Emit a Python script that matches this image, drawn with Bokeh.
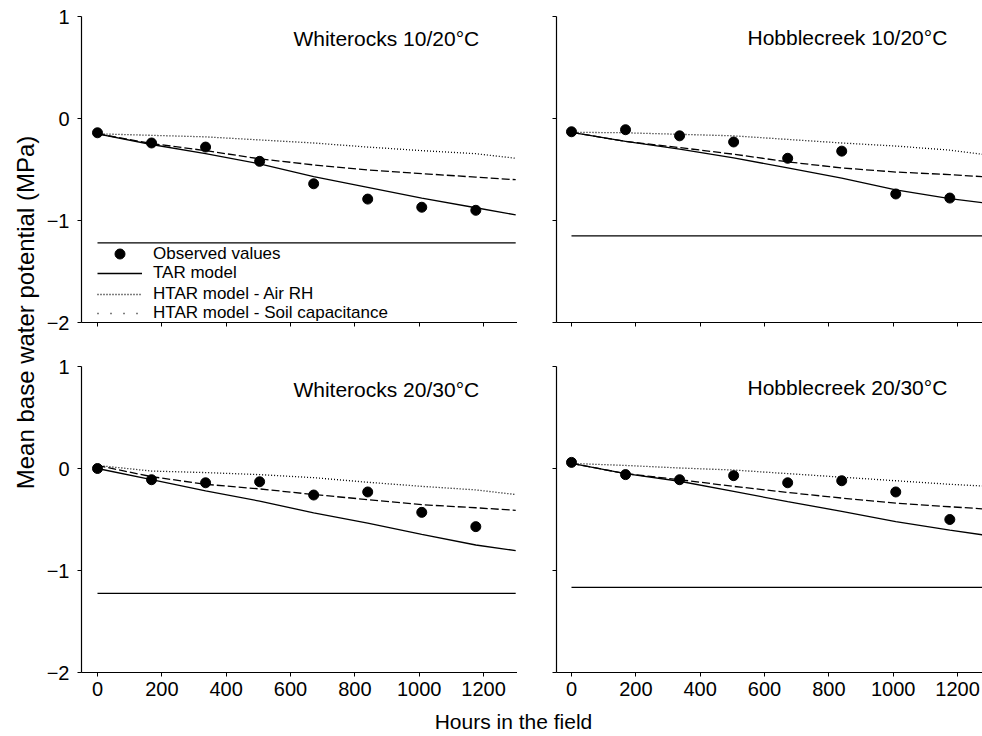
import math
from bokeh.plotting import figure
from bokeh.models import (Range1d, FixedTicker, Label, Legend, LegendItem,
                          CustomJSTickFormatter)
from bokeh.layouts import row, column
from bokeh.embed import file_html
from bokeh.resources import INLINE

FONT = "Liberation Sans"

# ---------------- data ----------------
obs_hours = [0, 168, 336, 504, 672, 840, 1008, 1176]
model_hours = [0, 168, 336, 504, 672, 840, 1008, 1176, 1300]

x_ticks = [0, 200, 400, 600, 800, 1000, 1200]
y_ticks = [-2, -1, 0, 1]
y_tick_labels = {-2: "\u22122", -1: "\u22121", 0: "0", 1: "1"}

titles = ["Whiterocks 10/20\u00b0C", "Hobblecreek 10/20\u00b0C",
          "Whiterocks 20/30\u00b0C", "Hobblecreek 20/30\u00b0C"]

legend_labels = ["Observed values", "TAR model", "HTAR model - Air RH",
                 "HTAR model - Soil capacitance"]

# Whiterocks 10/20
wr1020_obs = [-0.14, -0.24, -0.28, -0.42, -0.64, -0.79, -0.87, -0.90]
wr1020_tar = [-0.15, -0.255, -0.345, -0.445, -0.57, -0.675, -0.78, -0.875, -0.945]
wr1020_air = [-0.15, -0.165, -0.18, -0.21, -0.24, -0.28, -0.315, -0.345, -0.39]
wr1020_soil = [-0.15, -0.245, -0.315, -0.395, -0.455, -0.505, -0.54, -0.575, -0.60]
wr1020_base = -1.22

# Hobblecreek 10/20
hc1020_obs = [-0.13, -0.11, -0.17, -0.23, -0.39, -0.32, -0.74, -0.78]
hc1020_tar = [-0.135, -0.225, -0.30, -0.385, -0.485, -0.585, -0.70, -0.785, -0.835]
hc1020_air = [-0.135, -0.14, -0.155, -0.17, -0.205, -0.24, -0.27, -0.31, -0.36]
hc1020_soil = [-0.135, -0.225, -0.285, -0.35, -0.425, -0.485, -0.525, -0.55, -0.575]
hc1020_base = -1.15

# Whiterocks 20/30
wr2030_obs = [0.0, -0.11, -0.14, -0.13, -0.26, -0.23, -0.43, -0.57]
wr2030_tar = [0.0, -0.11, -0.22, -0.32, -0.435, -0.535, -0.645, -0.75, -0.805]
wr2030_air = [0.03, -0.025, -0.04, -0.06, -0.09, -0.135, -0.175, -0.21, -0.255]
wr2030_soil = [0.03, -0.08, -0.155, -0.20, -0.255, -0.305, -0.355, -0.385, -0.41]
wr2030_base = -1.225

# Hobblecreek 20/30
hc2030_obs = [0.06, -0.06, -0.11, -0.07, -0.14, -0.12, -0.23, -0.50]
hc2030_tar = [0.05, -0.05, -0.125, -0.225, -0.325, -0.42, -0.52, -0.605, -0.66]
hc2030_air = [0.05, 0.03, 0.005, -0.015, -0.05, -0.085, -0.12, -0.155, -0.175]
hc2030_soil = [0.05, -0.05, -0.11, -0.175, -0.235, -0.29, -0.34, -0.375, -0.40]
hc2030_base = -1.165

EMPTY = CustomJSTickFormatter(code="return ''")


def make_panel(obs, tar, air, soil, base, title, title_x, title_y,
               width, height, b_left, b_top, b_bottom, x_start, x_end,
               xlabels, ylabels):
    p = figure(width=width, height=height, output_backend="svg",
               toolbar_location=None,
               x_range=Range1d(x_start, x_end), y_range=Range1d(-2, 1),
               min_border_left=b_left, min_border_right=0,
               min_border_top=b_top, min_border_bottom=b_bottom)
    p.outline_line_color = None
    p.xgrid.visible = False
    p.ygrid.visible = False

    p.xaxis.ticker = FixedTicker(ticks=x_ticks)
    p.yaxis.ticker = FixedTicker(ticks=y_ticks)
    for ax in [p.xaxis[0], p.yaxis[0]]:
        ax.axis_line_color = "black"
        ax.axis_line_width = 1.2
        ax.major_tick_line_color = "black"
        ax.major_tick_line_width = 1
        ax.major_tick_out = 4
        ax.major_tick_in = 0
        ax.minor_tick_out = 0
        ax.minor_tick_in = 0
        ax.major_label_text_font = FONT
        ax.major_label_text_font_size = "20px"
        ax.major_label_text_color = "black"
    p.xaxis.major_label_standoff = 5
    p.yaxis.major_label_standoff = 8
    if ylabels:
        p.yaxis.major_label_overrides = y_tick_labels
    else:
        p.yaxis.formatter = EMPTY
    if not xlabels:
        p.xaxis.formatter = EMPTY

    p.line([model_hours[0], model_hours[-1]], [base, base],
           line_color="black", line_width=1.2)
    r_tar = p.line(model_hours, tar, line_color="black", line_width=1.3)
    r_air = p.line(model_hours, air, line_color="black", line_width=1.3,
                   line_dash="1 2")
    r_soil = p.line(model_hours, soil, line_color="black", line_width=1.3,
                    line_dash="8 3")
    r_obs = p.scatter(obs_hours, obs, size=10, color="black")

    p.add_layout(Label(x=title_x, y=title_y, text=title, text_font=FONT,
                       text_font_size="21px", text_color="black",
                       text_baseline="alphabetic", text_align="left"))
    return p, r_obs, r_tar, r_air, r_soil


YW = 41
LW, RW = 476, 465
TH, BH = 344, 361
XH = 31

tl, o1, t1, a1, s1 = make_panel(wr1020_obs, wr1020_tar, wr1020_air, wr1020_soil,
                                wr1020_base, titles[0], 609, 0.78,
                                LW, TH, 40, 16, 22, -49.7, 1305.6, False, True)
tr, *_ = make_panel(hc1020_obs, hc1020_tar, hc1020_air, hc1020_soil,
                    hc1020_base, titles[1], 547, 0.79,
                    RW, TH, 39, 16, 22, -46.6, 1277.6, False, False)
bl, *_ = make_panel(wr2030_obs, wr2030_tar, wr2030_air, wr2030_soil,
                    wr2030_base, titles[2], 609, 0.77,
                    LW, BH, 40, 22, 33, -49.7, 1305.6, True, True)
br, *_ = make_panel(hc2030_obs, hc2030_tar, hc2030_air, hc2030_soil,
                    hc2030_base, titles[3], 547, 0.795,
                    RW, BH, 39, 22, 33, -46.6, 1277.6, True, False)

# legend (top-left panel): one single-item legend per row
soil_proxy = tl.line([math.nan], [math.nan], line_color="black", line_width=1.5,
                     line_dash="1 12")
common = dict(padding=0, margin=0, border_line_color=None,
              background_fill_alpha=0, glyph_width=45, label_standoff=11,
              label_text_font=FONT, label_text_font_size="17px",
              label_text_color="black", spacing=0)
legend_rows = [(legend_labels[0], o1, 56, 25),
               (legend_labels[1], t1, 39, 12),
               (legend_labels[2], a1, 18, 12),
               (legend_labels[3], soil_proxy, -1, 12)]
for lab, rend, vy, gh in legend_rows:
    tl.add_layout(Legend(items=[LegendItem(label=lab, renderers=[rend])],
                         location=(16, vy), glyph_height=gh, label_height=gh,
                         **common))

# shared axis titles
ylab = figure(width=YW, height=TH + BH, output_backend="svg",
              toolbar_location=None, x_range=Range1d(0, 1), y_range=Range1d(0, 1),
              x_axis_type=None, y_axis_type=None, min_border=0)
ylab.outline_line_color = None
ylab.grid.visible = False
ylab.add_layout(Label(x=25, y=TH + BH - 312, x_units="screen", y_units="screen",
                      text="Mean base water potential (MPa)", angle=math.pi / 2,
                      text_align="center", text_baseline="middle",
                      text_font=FONT, text_font_size="24px", text_color="black"))

xlab = figure(width=YW + LW + RW, height=XH, output_backend="svg",
              toolbar_location=None, x_range=Range1d(0, 1), y_range=Range1d(0, 1),
              x_axis_type=None, y_axis_type=None, min_border=0)
xlab.outline_line_color = None
xlab.grid.visible = False
xlab.add_layout(Label(x=513, y=15, x_units="screen", y_units="screen",
                      text="Hours in the field", text_align="center",
                      text_baseline="middle", text_font=FONT,
                      text_font_size="21px", text_color="black"))

layout = column(row(ylab, column(row(tl, tr), row(bl, br))), xlab)

open("out.html", "w").write(file_html(layout, INLINE))
